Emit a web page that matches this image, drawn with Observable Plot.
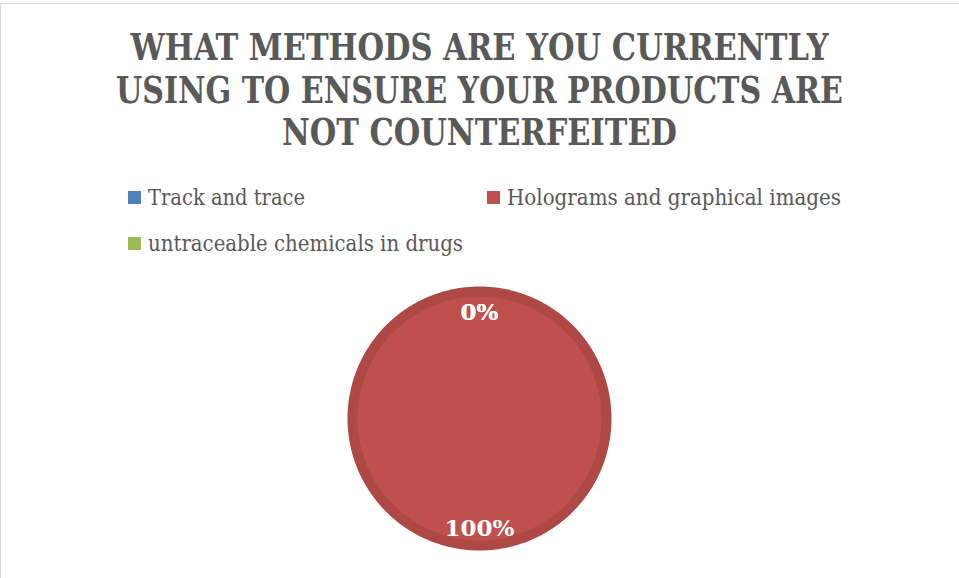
<!DOCTYPE html>
<html>
<head>
<meta charset="utf-8">
<script src="https://cdn.jsdelivr.net/npm/d3@7"></script>
<script src="https://cdn.jsdelivr.net/npm/@observablehq/plot@0.6"></script>
<style>
  body { margin: 0; background: #fff; }
  #chart { position: relative; width: 959px; height: 578px; overflow: hidden; background: #fff; }
  #frame { position: absolute; left: 0; top: 3px; width: 1200px; height: 1200px; border: 1px solid #d9d9d9; box-sizing: border-box; }
  #overlay { position: absolute; left: 0; top: 0; }
  #pie { position: absolute; left: 329px; top: 268px; }
</style>
</head>
<body>
<div id="chart"><div id="frame"></div></div>
<script>
// ---- data ----
const titleLines = ["WHAT METHODS ARE YOU CURRENTLY", "USING TO ENSURE YOUR PRODUCTS ARE", "NOT COUNTERFEITED"];
const categories = ["Track and trace", "Holograms and graphical images", "untraceable chemicals in drugs"];
const values = [0, 100, 0];
const colors = ["#4F81BD", "#C0504D", "#9BBB59"];

// ---- layout ----
const W = 959, H = 578;
const textColor = "#595959";
const chart = document.getElementById("chart");

// title + legend overlay
const svg = d3.select(chart).append("svg")
  .attr("id", "overlay").attr("width", W).attr("height", 270);

const titleBaselines = [60, 102.5, 145];
const titleWidths = [698, 727, 395];
svg.append("g").selectAll("text").data(titleLines).join("text")
  .attr("x", 479.5).attr("y", (d, i) => titleBaselines[i])
  .attr("text-anchor", "middle")
  .attr("font-family", "'DejaVu Serif Condensed', 'DejaVu Serif', serif")
  .attr("font-weight", "bold").attr("font-size", 37)
  .attr("fill", textColor)
  .attr("textLength", (d, i) => titleWidths[i]).attr("lengthAdjust", "spacingAndGlyphs")
  .text(d => d);

const legendPos = [{x: 128, y: 205}, {x: 487, y: 205}, {x: 128, y: 251}];
const legendWidths = [157, 334, 315];
const lg = svg.append("g").selectAll("g").data(categories).join("g")
  .attr("transform", (d, i) => `translate(${legendPos[i].x},${legendPos[i].y})`);
lg.append("rect").attr("x", 0).attr("y", -14).attr("width", 13).attr("height", 13)
  .attr("fill", (d, i) => colors[i]);
lg.append("text").attr("x", 20).attr("y", 0)
  .attr("font-family", "'DejaVu Serif Condensed', 'DejaVu Serif', serif")
  .attr("font-size", 23).attr("fill", textColor)
  .attr("textLength", (d, i) => legendWidths[i]).attr("lengthAdjust", "spacingAndGlyphs")
  .text(d => d);

// ---- pie geometry from data ----
const arcs = d3.pie().sort(null).startAngle(0).endAngle(2 * Math.PI)(values);
const total = d3.sum(values);
const fillPts = [];
const rims = [];
const labels = [];
arcs.forEach((a, i) => {
  const cat = categories[i];
  const span = a.endAngle - a.startAngle;
  const mid = (a.startAngle + a.endAngle) / 2;
  labels.push({category: cat, x: 0.85 * Math.sin(mid), y: 0.85 * Math.cos(mid), label: d3.format(".0%")(values[i] / total)});
  if (span <= 0) return;
  const n = Math.max(2, Math.ceil(240 * span / (2 * Math.PI)));
  const full = span >= 2 * Math.PI - 1e-9;
  const rim = [];
  if (!full) fillPts.push({category: cat, x: 0, y: 0});
  for (let k = 0; k <= n; k++) {
    const t = a.startAngle + span * k / n;
    const p = {category: cat, x: Math.sin(t), y: Math.cos(t)};
    fillPts.push(p);
    rim.push(p);
  }
  rims.push({category: cat, color: d3.rgb(colors[i]).darker(0.3).formatHex(), pts: rim, full});
});

const size = 300, unitPx = 127;
const k = (size / 2) / unitPx;
const pie = Plot.plot({
  width: size, height: size, margin: 0,
  style: {background: "transparent", overflow: "visible"},
  x: {domain: [-k, k], axis: null},
  y: {domain: [-k, k], axis: null},
  color: {domain: categories, range: colors},
  marks: [
    Plot.line(fillPts, {x: "x", y: "y", z: "category", fill: "category", stroke: null, curve: "linear-closed"}),
    ...rims.map(r => Plot.line(r.pts, {x: "x", y: "y", stroke: r.color, strokeWidth: 10, curve: r.full ? "linear-closed" : "linear"})),
    Plot.text(labels, {x: "x", y: "y", dy: 2, text: "label", fill: "white", fontSize: 23, fontWeight: "bold", fontFamily: "'DejaVu Serif', serif"})
  ]
});
pie.id = "pie";
chart.appendChild(pie);
</script>
</body>
</html>
